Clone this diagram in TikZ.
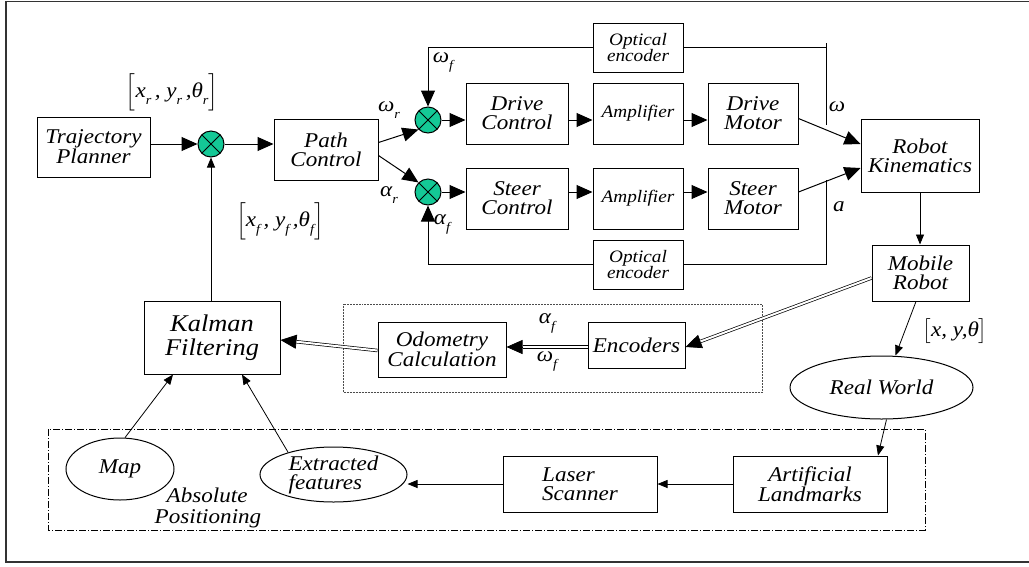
\documentclass[tikz,border=0pt]{standalone}
\usepackage{amsmath}
\usepackage{fontspec}
\setmainfont[FakeStretch=1.1]{Liberation Serif}
\usetikzlibrary{shapes.geometric,arrows.meta}
\definecolor{sumgreen}{RGB}{20,200,150}
\newcommand{\lowidx}[1]{\raisebox{-7pt}{\fontsize{13}{13}\selectfont\itshape #1}}

\begin{document}
\begin{tikzpicture}[x=1pt,y=-1pt,
    blk/.style={draw, line width=1pt, inner sep=0pt, align=center,
        font=\fontsize{21}{19}\selectfont\itshape},
    smallblk/.style={blk, font=\fontsize{17.5}{15}\selectfont\itshape},
    oval/.style={blk, ellipse, inner sep=-10pt},
    sum/.style={draw, circle, fill=sumgreen, minimum size=26pt, inner sep=0pt,
        line width=1pt, path picture={
        \draw[line width=1pt] (path picture bounding box.north west) -- (path picture bounding box.south east)
            (path picture bounding box.north east) -- (path picture bounding box.south west);}},
    lbl/.style={inner sep=0pt, font=\fontsize{21}{21}\selectfont\itshape},
    bigarr/.style={line width=1pt, -{Triangle[length=16pt,width=14pt]}},
    smallarr/.style={line width=0.8pt, -{Triangle[length=10pt,width=8pt]}},
    dblarr/.style={line width=0.7pt, -{Triangle[length=16pt,width=14pt]},
        postaction={draw, -, double, double distance=2pt, shorten >=16pt}}]
\useasboundingbox (0,0) rectangle (1029,566);
\draw[line width=1.2pt, black!80] (6,1.5) rectangle (1040,562);

% reference loop
\node[blk, minimum width=113pt, minimum height=60pt] (traj) at (93.5,147) {Trajectory\\Planner};
\node[sum] (sumA) at (211,144) {};
\node[blk, minimum width=104pt, minimum height=61pt] (path) at (326,149.5) {Path\\Control};
\node[lbl] (refpose) at (172,92) {\(\Bigl[\)x\lowidx{r}\,, y\lowidx{r}\,,θ\lowidx{r}\(\Bigr]\)};
\node[lbl] (estpose) at (280,221) {\(\Bigl[\)x\lowidx{f}\,, y\lowidx{f}\,,θ\lowidx{f}\(\Bigr]\)};

% drive and steer channels
\node[sum] (sumD) at (428,120) {};
\node[sum] (sumS) at (428,192) {};
\node[blk, minimum width=102pt, minimum height=61pt] (dctl) at (517,113.5) {Drive\\Control};
\node[smallblk, minimum width=90pt, minimum height=61pt] (ampD) at (638,113.5) {Amplifier};
\node[blk, minimum width=90pt, minimum height=61pt] (dmot) at (753,113.5) {Drive\\Motor};
\node[blk, minimum width=102pt, minimum height=61pt] (sctl) at (517,198.5) {Steer\\Control};
\node[smallblk, minimum width=90pt, minimum height=61pt] (ampS) at (638,198.5) {Amplifier};
\node[blk, minimum width=90pt, minimum height=61pt] (smot) at (753,198.5) {Steer\\Motor};
\node[smallblk, minimum width=90pt, minimum height=49pt] (encT) at (638,47.5) {Optical\\encoder};
\node[smallblk, minimum width=90pt, minimum height=49pt] (encB) at (638,264.5) {Optical\\encoder};
\node[lbl] (wr) at (389,110) {ω\lowidx{r}};
\node[lbl] (ar) at (389,195) {α\lowidx{r}};
\node[lbl] (wf) at (443,62) {ω\lowidx{f}};
\node[lbl] (af) at (442,224) {α\lowidx{f}};
\node[lbl] (wout) at (837,107) {ω};
\node[lbl] (aout) at (839,207) {a};
\coordinate (wtop) at (826,43);
\coordinate (wtap) at (826,125);
\coordinate (atap) at (826,180);

% robot and odometry
\node[blk, minimum width=118pt, minimum height=73pt] (robkin) at (920,155.5) {Robot\\Kinematics};
\node[blk, minimum width=97pt, minimum height=56pt] (mobile) at (920.5,273) {Mobile\\Robot};
\node[blk, minimum width=97pt, minimum height=46pt] (encs) at (636.5,345) {Encoders};
\node[blk, minimum width=128pt, minimum height=55pt] (odo) at (442,349.5) {Odometry\\Calculation};
\node[blk, minimum width=136pt, minimum height=73pt, font=\fontsize{24}{24}\selectfont\itshape] (kalman) at (212,337.5) {Kalman\\Filtering};
\node[lbl] (af2) at (547,323) {α\lowidx{f}};
\node[lbl] (wf2) at (547,361) {ω\lowidx{f}};
\node[lbl] (pose) at (955,331) {\(\bigl[\)x, y,θ\(\bigr]\)};
\draw[densely dotted, line width=0.5pt, black!70] (343,304) rectangle (762,392);

% absolute positioning
\node[oval, minimum width=183pt, minimum height=63pt] (world) at (881.5,387.5) {Real World};
\node[blk, minimum width=154pt, minimum height=56pt] (landm) at (810,484) {Artificial\\Landmarks};
\node[blk, minimum width=154pt, minimum height=56pt, align=left] (laser) at (580,484) {Laser\\Scanner};
\node[oval, minimum width=147pt, minimum height=55pt, align=left] (feat) at (333.5,474.5) {Extracted\\features};
\node[oval, minimum width=108pt, minimum height=62pt] (map) at (120,469) {Map};
\node[lbl, align=left] (abspos) at (208,508) {\hspace*{12pt}Absolute\\Positioning};
\draw[line width=0.8pt, dash pattern=on 7pt off 2pt on 1pt off 2pt] (48,429) rectangle (925,530);

% connections
\draw[bigarr] (traj.east |- sumA) -- (sumA);
\draw[bigarr] (sumA) -- (sumA -| path.west);
\draw[smallarr] (kalman.north -| sumA) -- (sumA.south);
\draw[bigarr] ([yshift=7pt]path.east) -- (sumD.225);
\draw[bigarr] ([yshift=-6pt]path.east) -- (sumS.135);
\draw[bigarr] (sumD) -- (sumD -| dctl.west);
\draw[bigarr] (dctl.east |- sumD) -- (ampD.west |- sumD);
\draw[bigarr] (ampD.east |- sumD) -- (dmot.west |- sumD);
\draw[bigarr] (sumS) -- (sumS -| sctl.west);
\draw[bigarr] (sctl.east |- sumS) -- (ampS.west |- sumS);
\draw[bigarr] (ampS.east |- sumS) -- (smot.west |- sumS);
\draw[bigarr] (encT.west) -| (sumD.north);
\draw (encT.east) -- (wtop |- encT.east);
\draw (wtap) -- (wtop);
\draw[bigarr] (encB.west) -| (sumS.south);
\draw (atap) |- (encB.east);
\draw[bigarr] ([yshift=-5pt]dmot.east) -- ([yshift=11.5pt]robkin.west);
\draw[bigarr] ([yshift=6.5pt]smot.east) -- ([yshift=-12.5pt]robkin.west);
\draw[smallarr] (robkin.south) -- (robkin.south |- mobile.north);
\draw[dblarr] ([yshift=-5pt]mobile.west) -- ([yshift=-2pt]encs.east);
\draw[dblarr] ([yshift=-2pt]encs.west) -- ([yshift=2.5pt]odo.east);
\draw[dblarr] ([yshift=-1pt]odo.west) -- ([yshift=-2.5pt]kalman.east);
\draw[smallarr] ([xshift=-4.5pt]mobile.south) -- ([xshift=14pt]world.north);
\draw[smallarr] ([xshift=5pt]world.south) -- ([xshift=68pt]landm.north);
\draw[smallarr] (landm.west) -- (laser.east);
\draw[smallarr] (laser.west) -- (laser.west -| feat.east);
\draw[smallarr] (map.81) -- ([xshift=-39pt]kalman.south);
\draw[smallarr] (feat.154) -- ([xshift=30pt]kalman.south);
\end{tikzpicture}
\end{document}
